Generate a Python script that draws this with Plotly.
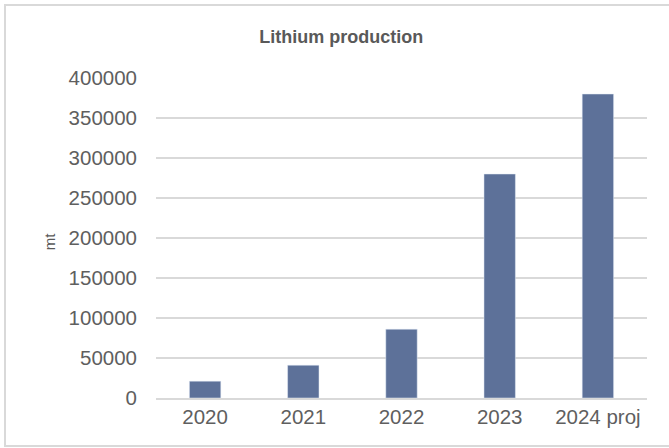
import plotly.graph_objects as go

## DATA
years = ["2020", "2021", "2022", "2023", "2024 proj"]
production_mt = [21000, 41000, 86000, 280000, 380000]
y_ticks = [0, 50000, 100000, 150000, 200000, 250000, 300000, 350000, 400000]

fig = go.Figure()
fig.add_trace(go.Bar(x=years, y=production_mt, marker_color="#5D7199", width=0.32))

fig.update_layout(
    width=669, height=448,
    margin=dict(l=156, r=22, t=78, b=50),
    paper_bgcolor="white", plot_bgcolor="white",
    font=dict(family="Liberation Sans, Arial", color="#5F5F5F", size=20.5),
    title=dict(text="<b>Lithium production</b>", x=0.51, xanchor="center",
               y=1 - 37 / 448, yanchor="middle", yref="container",
               font=dict(size=18, color="#595959")),
    showlegend=False,
)
fig.update_yaxes(range=[0, 400000], tickvals=y_ticks, ticktext=[str(v) for v in y_ticks],
                 showgrid=True, gridcolor="#D9D9D9", gridwidth=1.5, zeroline=False,
                 ticks="", ticklabelstandoff=18)
fig.update_xaxes(showline=True, linecolor="#D9D9D9", linewidth=1.5, ticks="", ticklabelstandoff=0)

# y axis title "mt"
fig.add_annotation(text="mt", xref="paper", yref="paper", x=-0.218, y=0.49,
                   xanchor="center", yanchor="middle",
                   textangle=-90, showarrow=False, font=dict(size=15, color="#595959"))

# chart border (right edge falls outside the picture, as in the reference)
fig.add_shape(type="rect", xref="paper", yref="paper", x0=-0.3075, x1=1.051,
              y0=-0.15, y1=1.228, line=dict(color="#D9D9D9", width=2))

# drop the default 8px body margin so the figure sits at the page origin
fig.write_html("out.html", config={"displayModeBar": False},
               post_script="document.body.style.margin='0';")
